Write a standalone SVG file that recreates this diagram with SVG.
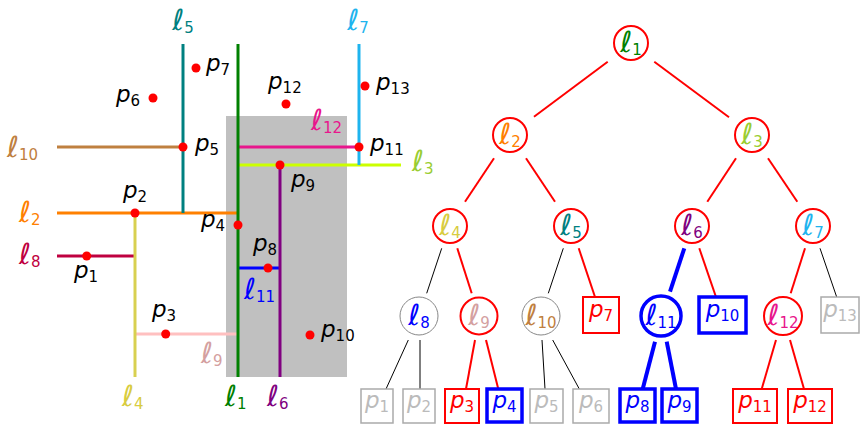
<svg xmlns="http://www.w3.org/2000/svg" width="865" height="424" viewBox="0 0 865 424">
<style>
.t{font-family:"DejaVu Sans","Liberation Sans",sans-serif;font-size:23px;font-style:italic}
.l{font-family:"DejaVu Sans","Liberation Sans",sans-serif;font-size:29px;font-style:italic}
.s{font-family:"DejaVu Sans","Liberation Sans",sans-serif;font-size:15px;font-style:normal}
.tc{text-anchor:middle}
.ln{stroke-width:3;fill:none}
.pt{fill:#ff0000}
.cr{fill:#fff;stroke:#ff0000;stroke-width:2}
.cg{fill:#fff;stroke:#888;stroke-width:1}
.cb{fill:#fff;stroke:#0000ff;stroke-width:3.5}
.br{fill:#fff;stroke:#ff0000;stroke-width:2}
.bb{fill:#fff;stroke:#0000ff;stroke-width:3.5}
.bg{fill:#fff;stroke:#aaa;stroke-width:1.5}
.er{stroke:#ff0000;stroke-width:2}
.ek{stroke:#000;stroke-width:1}
.eb{stroke:#0000ff;stroke-width:4}
</style>
<g id="plane">
<rect x="226" y="116" width="121" height="261" fill="#c0c0c0"/>
<line class="ln" x1="57" y1="147" x2="183" y2="147" stroke="#bf8040"/>
<line class="ln" x1="238" y1="147" x2="359" y2="147" stroke="#e8168c"/>
<line class="ln" x1="238" y1="165" x2="401" y2="165" stroke="#ccff00"/>
<line class="ln" x1="57" y1="213" x2="238" y2="213" stroke="#ff8000"/>
<line class="ln" x1="57" y1="256" x2="135" y2="256" stroke="#bf0040"/>
<line class="ln" x1="238" y1="268" x2="280" y2="268" stroke="#0000ff"/>
<line class="ln" x1="135" y1="334" x2="238" y2="334" stroke="#ffc0c0"/>
<line class="ln" x1="183" y1="44" x2="183" y2="213" stroke="#008080"/>
<line class="ln" x1="238" y1="44" x2="238" y2="377" stroke="#008000"/>
<line class="ln" x1="359" y1="44" x2="359" y2="165" stroke="#1eb4ee"/>
<line class="ln" x1="280" y1="165" x2="280" y2="377" stroke="#800080"/>
<line class="ln" x1="135" y1="213" x2="135" y2="377" stroke="#d8d050"/>
<circle class="pt" cx="86.7" cy="256" r="4.5"/>
<circle class="pt" cx="135" cy="213" r="4.5"/>
<circle class="pt" cx="165.7" cy="334" r="4.5"/>
<circle class="pt" cx="238" cy="225" r="4.5"/>
<circle class="pt" cx="183" cy="147" r="4.5"/>
<circle class="pt" cx="153" cy="98" r="4.5"/>
<circle class="pt" cx="196" cy="68" r="4.5"/>
<circle class="pt" cx="268" cy="268" r="4.5"/>
<circle class="pt" cx="280" cy="165" r="4.5"/>
<circle class="pt" cx="310" cy="335" r="4.5"/>
<circle class="pt" cx="359" cy="147" r="4.5"/>
<circle class="pt" cx="286" cy="104" r="4.5"/>
<circle class="pt" cx="365" cy="86" r="4.5"/>
<text class="l tc" x="183" y="30" fill="#008080">ℓ<tspan class="s" dy="3">5</tspan></text>
<text class="l tc" x="358" y="30" fill="#1eb4ee">ℓ<tspan class="s" dy="3">7</tspan></text>
<text class="l" x="7" y="157" fill="#bf8040">ℓ<tspan class="s" dy="3">10</tspan></text>
<text class="l" x="311" y="130" fill="#e8168c">ℓ<tspan class="s" dy="3">12</tspan></text>
<text class="l" x="412" y="171" fill="#9acd32">ℓ<tspan class="s" dy="3">3</tspan></text>
<text class="l" x="19" y="222" fill="#ff8000">ℓ<tspan class="s" dy="3">2</tspan></text>
<text class="l" x="19" y="264" fill="#bf0040">ℓ<tspan class="s" dy="3">8</tspan></text>
<text class="l" x="244" y="299" fill="#0000ff">ℓ<tspan class="s" dy="3">11</tspan></text>
<text class="l" x="201" y="363" fill="#d4a0a0">ℓ<tspan class="s" dy="3">9</tspan></text>
<text class="l" x="122" y="406" fill="#d8cc40">ℓ<tspan class="s" dy="3">4</tspan></text>
<text class="l" x="225" y="406" fill="#008000">ℓ<tspan class="s" dy="3">1</tspan></text>
<text class="l" x="267" y="406" fill="#800080">ℓ<tspan class="s" dy="3">6</tspan></text>
<text class="t" x="206" y="71">p<tspan class="s" dy="4">7</tspan></text>
<text class="t" x="116" y="102">p<tspan class="s" dy="4">6</tspan></text>
<text class="t" x="268" y="89">p<tspan class="s" dy="4">12</tspan></text>
<text class="t" x="376" y="90">p<tspan class="s" dy="4">13</tspan></text>
<text class="t" x="195" y="151">p<tspan class="s" dy="4">5</tspan></text>
<text class="t" x="370" y="151">p<tspan class="s" dy="4">11</tspan></text>
<text class="t" x="291" y="187">p<tspan class="s" dy="4">9</tspan></text>
<text class="t" x="123" y="198">p<tspan class="s" dy="4">2</tspan></text>
<text class="t" x="201" y="227">p<tspan class="s" dy="4">4</tspan></text>
<text class="t" x="253" y="251">p<tspan class="s" dy="4">8</tspan></text>
<text class="t" x="74" y="278">p<tspan class="s" dy="4">1</tspan></text>
<text class="t" x="152" y="317">p<tspan class="s" dy="4">3</tspan></text>
<text class="t" x="321" y="337">p<tspan class="s" dy="4">10</tspan></text>
</g>
<g id="connectors">
<line class="er" x1="607.7" y1="61.7" x2="534" y2="116.7"/>
<line class="er" x1="654.3" y1="61.7" x2="729" y2="117.3"/>
<line class="er" x1="494" y1="158.3" x2="465" y2="201.7"/>
<line class="er" x1="526" y1="158.3" x2="555" y2="201.7"/>
<line class="er" x1="736" y1="158.3" x2="707.3" y2="201.7"/>
<line class="er" x1="768" y1="158.3" x2="797.3" y2="201.7"/>
<line class="ek" x1="441.7" y1="248.3" x2="426.7" y2="293.3"/>
<line class="er" x1="457.3" y1="248.3" x2="471.7" y2="293.3"/>
<line class="ek" x1="563.3" y1="248.3" x2="548.3" y2="293.3"/>
<line class="er" x1="578.7" y1="248.3" x2="595" y2="297"/>
<line class="eb" x1="684.3" y1="248.3" x2="670" y2="291.7"/>
<line class="er" x1="699.3" y1="248.3" x2="716" y2="297"/>
<line class="er" x1="805" y1="248.3" x2="790.7" y2="293.3"/>
<line class="ek" x1="820" y1="248.3" x2="836.7" y2="297"/>
<line class="ek" x1="408.3" y1="340" x2="386" y2="389"/>
<line class="ek" x1="420" y1="340" x2="420" y2="389"/>
<line class="er" x1="475" y1="340" x2="466" y2="389"/>
<line class="er" x1="486" y1="340" x2="498.3" y2="389"/>
<line class="ek" x1="542" y1="340" x2="545" y2="389"/>
<line class="ek" x1="552.7" y1="340" x2="579.3" y2="389"/>
<line class="eb" x1="655" y1="341.7" x2="642.7" y2="389"/>
<line class="eb" x1="666.7" y1="341.7" x2="676" y2="389"/>
<line class="er" x1="776" y1="340" x2="761.7" y2="389"/>
<line class="er" x1="790" y1="340" x2="804" y2="389"/>
</g>
<g id="n-l1"><circle class="cr" cx="631" cy="43" r="17"/><text class="l tc" x="631" y="52" fill="#008000">ℓ<tspan class="s" dy="3">1</tspan></text></g>
<g id="n-l2"><circle class="cr" cx="510" cy="135" r="17"/><text class="l tc" x="510" y="144" fill="#ff8000">ℓ<tspan class="s" dy="3">2</tspan></text></g>
<g id="n-l3"><circle class="cr" cx="752" cy="135" r="17"/><text class="l tc" x="752" y="144" fill="#9acd32">ℓ<tspan class="s" dy="3">3</tspan></text></g>
<g id="n-l4"><circle class="cr" cx="450" cy="226" r="17"/><text class="l tc" x="450" y="235" fill="#d8cc40">ℓ<tspan class="s" dy="3">4</tspan></text></g>
<g id="n-l5"><circle class="cr" cx="571" cy="226" r="17"/><text class="l tc" x="571" y="235" fill="#008080">ℓ<tspan class="s" dy="3">5</tspan></text></g>
<g id="n-l6"><circle class="cr" cx="692" cy="226" r="17"/><text class="l tc" x="692" y="235" fill="#800080">ℓ<tspan class="s" dy="3">6</tspan></text></g>
<g id="n-l7"><circle class="cr" cx="813" cy="226" r="17"/><text class="l tc" x="813" y="235" fill="#1eb4ee">ℓ<tspan class="s" dy="3">7</tspan></text></g>
<g id="n-l8"><circle class="cg" cx="419" cy="316" r="19"/><text class="l tc" x="419" y="325" fill="#0000ff">ℓ<tspan class="s" dy="3">8</tspan></text></g>
<g id="n-l9"><circle class="cr" cx="479" cy="316" r="18.5"/><text class="l tc" x="479" y="325" fill="#d4a0a0">ℓ<tspan class="s" dy="3">9</tspan></text></g>
<g id="n-l10"><circle class="cg" cx="541" cy="316" r="19"/><text class="l tc" x="541" y="325" fill="#bf8040">ℓ<tspan class="s" dy="3">10</tspan></text></g>
<g id="n-l11"><circle class="cb" cx="661" cy="316" r="20"/><text class="l tc" x="661" y="325" fill="#0000ff">ℓ<tspan class="s" dy="3">11</tspan></text></g>
<g id="n-l12"><circle class="cr" cx="783" cy="316" r="19"/><text class="l tc" x="783" y="325" fill="#e8168c">ℓ<tspan class="s" dy="3">12</tspan></text></g>
<g id="n-p7"><rect class="br" x="583" y="297" width="36" height="36"/><text class="t tc" x="601" y="317" fill="#ff0000">p<tspan class="s" dy="4">7</tspan></text></g>
<g id="n-p10"><rect class="bb" x="699" y="297" width="47" height="36"/><text class="t tc" x="722.5" y="317" fill="#0000ff">p<tspan class="s" dy="4">10</tspan></text></g>
<g id="n-p13"><rect class="bg" x="821" y="297" width="38" height="36"/><text class="t tc" x="840" y="317" fill="#bbb">p<tspan class="s" dy="4">13</tspan></text></g>
<g id="n-p1"><rect class="bg" x="361" y="389" width="32" height="34"/><text class="t tc" x="377" y="408" fill="#bbb">p<tspan class="s" dy="4">1</tspan></text></g>
<g id="n-p2"><rect class="bg" x="403" y="389" width="32" height="34"/><text class="t tc" x="419" y="408" fill="#bbb">p<tspan class="s" dy="4">2</tspan></text></g>
<g id="n-p3"><rect class="br" x="445" y="389" width="34" height="34"/><text class="t tc" x="462" y="408" fill="#ff0000">p<tspan class="s" dy="4">3</tspan></text></g>
<g id="n-p4"><rect class="bb" x="487" y="389" width="35" height="33"/><text class="t tc" x="504.5" y="408" fill="#0000ff">p<tspan class="s" dy="4">4</tspan></text></g>
<g id="n-p5"><rect class="bg" x="530" y="389" width="33" height="34"/><text class="t tc" x="546.5" y="408" fill="#bbb">p<tspan class="s" dy="4">5</tspan></text></g>
<g id="n-p6"><rect class="bg" x="573" y="389" width="36" height="34"/><text class="t tc" x="591" y="408" fill="#bbb">p<tspan class="s" dy="4">6</tspan></text></g>
<g id="n-p8"><rect class="bb" x="620" y="389" width="35" height="33"/><text class="t tc" x="637.5" y="408" fill="#0000ff">p<tspan class="s" dy="4">8</tspan></text></g>
<g id="n-p9"><rect class="bb" x="662" y="389" width="35" height="33"/><text class="t tc" x="679.5" y="408" fill="#0000ff">p<tspan class="s" dy="4">9</tspan></text></g>
<g id="n-p11"><rect class="br" x="733" y="389" width="44" height="34"/><text class="t tc" x="755" y="408" fill="#ff0000">p<tspan class="s" dy="4">11</tspan></text></g>
<g id="n-p12"><rect class="br" x="788" y="389" width="44" height="34"/><text class="t tc" x="810" y="408" fill="#ff0000">p<tspan class="s" dy="4">12</tspan></text></g>
</svg>
